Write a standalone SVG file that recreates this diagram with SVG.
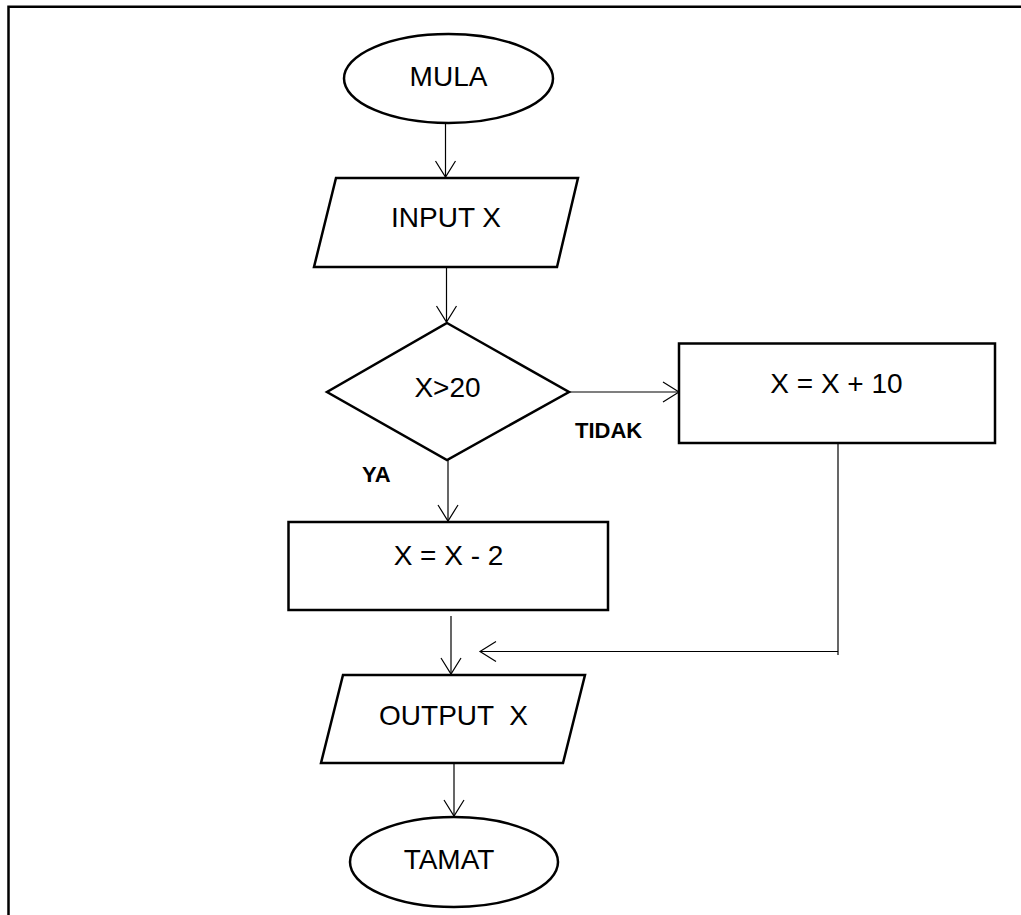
<svg xmlns="http://www.w3.org/2000/svg" width="1021" height="915" viewBox="0 0 1021 915">
<defs>
<style>
.shape{fill:#fff;stroke:#000;stroke-width:2.5}
.conn{fill:none;stroke:#000;stroke-width:1.2}
.t{font-family:"Liberation Sans",Arial,sans-serif;font-size:28px;fill:#000;text-anchor:middle}
.lbl{font-family:"Liberation Sans",Arial,sans-serif;font-size:22px;font-weight:bold;fill:#000}
</style>
<marker id="arr" markerUnits="userSpaceOnUse" markerWidth="20" markerHeight="24" viewBox="-18 -12 20 24" refX="0" refY="0" orient="auto">
<path d="M-16,-10 L0,0 L-16,10" fill="none" stroke="#000" stroke-width="1.2"/>
</marker>
</defs>
<rect width="1021" height="915" fill="#fff"/>
<path d="M8.5,915 L8.5,6.7 L1021,6.7" fill="none" stroke="#000" stroke-width="2.5"/>
<g id="connectors">
<line class="conn" x1="445.5" y1="123" x2="445.5" y2="177" marker-end="url(#arr)"/>
<line class="conn" x1="446.5" y1="267" x2="446.5" y2="322" marker-end="url(#arr)"/>
<line class="conn" x1="569" y1="392" x2="679" y2="392" marker-end="url(#arr)"/>
<line class="conn" x1="448" y1="460" x2="448" y2="521" marker-end="url(#arr)"/>
<line class="conn" x1="451" y1="616" x2="451" y2="674" marker-end="url(#arr)"/>
<polyline class="conn" points="838,443 838,655"/>
<line class="conn" x1="838" y1="651.5" x2="480" y2="651.5" marker-end="url(#arr)"/>
<line class="conn" x1="454" y1="763" x2="454" y2="816" marker-end="url(#arr)"/>
<text class="lbl" x="575" y="438">TIDAK</text>
<text class="lbl" x="362" y="482">YA</text>
</g>
<g id="mula">
<ellipse class="shape" cx="448.5" cy="78.5" rx="104.5" ry="44.5"/>
<text class="t" x="448.5" y="86">MULA</text>
</g>
<g id="input">
<polygon class="shape" points="336,178 578,178 557,267 314,267"/>
<text class="t" x="446" y="227">INPUT X</text>
</g>
<g id="decision">
<polygon class="shape" points="447,323 569,392 447,460 327,392"/>
<text class="t" x="447.5" y="397">X&gt;20</text>
</g>
<g id="plus10">
<rect class="shape" x="679" y="343.5" width="316" height="99.5"/>
<text class="t" x="836.5" y="393">X = X + 10</text>
</g>
<g id="minus2">
<rect class="shape" x="288.5" y="522" width="319.5" height="88"/>
<text class="t" x="448.5" y="565">X = X - 2</text>
</g>
<g id="output">
<polygon class="shape" points="343,675 585,675 563,763 321,763"/>
<text class="t" x="453.5" y="725" xml:space="preserve">OUTPUT  X</text>
</g>
<g id="tamat">
<ellipse class="shape" cx="454" cy="862" rx="104" ry="45"/>
<text class="t" x="449" y="869">TAMAT</text>
</g>
</svg>
